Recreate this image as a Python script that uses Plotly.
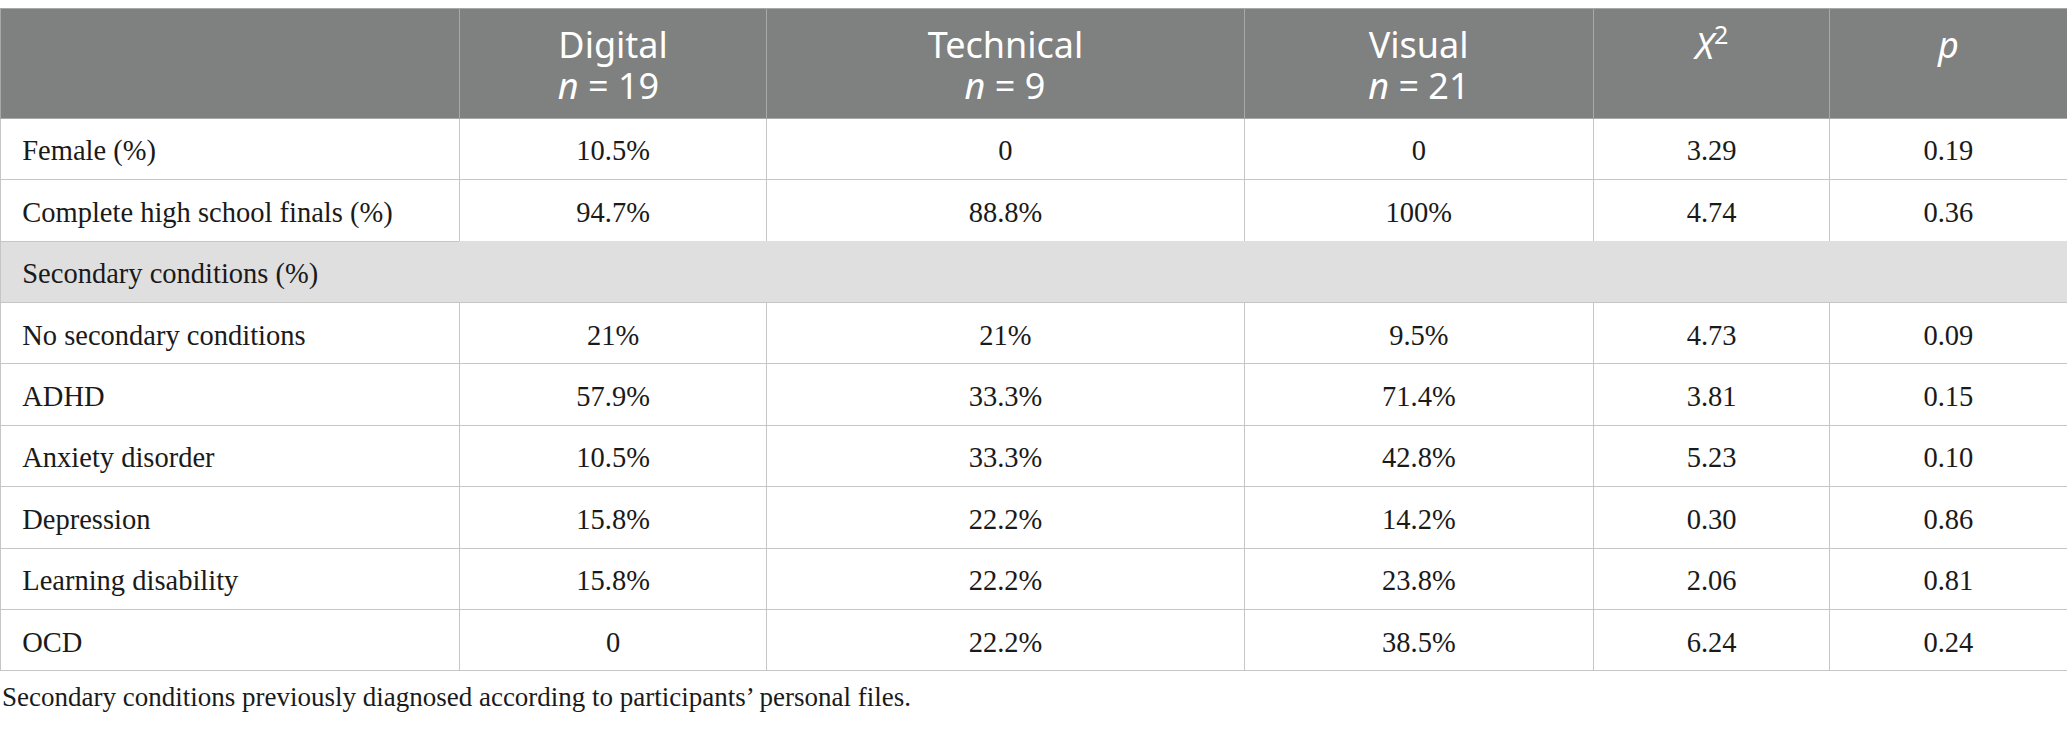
import plotly.graph_objects as go

row_labels = ["Female (%)", "Complete high school finals (%)", "Secondary conditions (%)",
              "No secondary conditions", "ADHD", "Anxiety disorder", "Depression",
              "Learning disability", "OCD"]
digital = ["10.5%", "94.7%", "", "21%", "57.9%", "10.5%", "15.8%", "15.8%", "0"]
technical = ["0", "88.8%", "", "21%", "33.3%", "33.3%", "22.2%", "22.2%", "22.2%"]
visual = ["0", "100%", "", "9.5%", "71.4%", "42.8%", "14.2%", "23.8%", "38.5%"]
chi2 = ["3.29", "4.74", "", "4.73", "3.81", "5.23", "0.30", "2.06", "6.24"]
pvals = ["0.19", "0.36", "", "0.09", "0.15", "0.10", "0.86", "0.81", "0.24"]
headers = [[""], ["Digital", "<i>n</i> = 19"], ["Technical", "<i>n</i> = 9"],
           ["Visual", "<i>n</i> = 21"], ["<i>X</i><sup>2</sup>"], ["<i>p</i>"]]
footnote = "Secondary conditions previously diagnosed according to participants\u2019 personal files."

W, H = 2067, 733
col_widths = [459, 307, 477, 349, 236, 237]
section_idx = 2
n_rows = len(row_labels)
# non-breaking spaces each side of a header's 2nd line, so it sits centred under the 1st line
second_line_pad = [0, 1, 5, 1, 0, 0]


def strut(size):
    # invisible non-breaking space with a larger font: pushes the text down inside its cell
    return f'<span style="font-size:{size}px">\u00a0</span>'


def up(s, px):
    return f'<span style="baseline-shift:{px}px">{s}</span>'


header_vals = []
for ci, h in enumerate(headers):
    if not h[0]:
        header_vals.append("")
        continue
    first = strut(38) + h[0] + strut(38)
    if len(h) == 1:
        header_vals.append(first + "<br>")
    else:
        pad = "\u00a0" * second_line_pad[ci]
        header_vals.append(first + "<br>" + up(pad + h[1] + pad, 5))

body_cols = [row_labels, digital, technical, visual, chi2, pvals]
body_vals = []
for ci, col in enumerate(body_cols):
    vals = []
    for v in col:
        if not v:
            vals.append("")
            continue
        if ci == 0:
            txt = "\u00a0\u00a0" + v + strut(38)
        else:
            txt = strut(38) + v + strut(38)
        vals.append(txt + "<br>")
    body_vals.append(vals)

grid = "#c6c6c6"
sec_fill = "#e0dfe0"
row_fill = [sec_fill if i == section_idx else "white" for i in range(n_rows)]
fills = [row_fill] * len(body_cols)
line_cols = []
for ci in range(len(body_cols)):
    line_cols.append([sec_fill if (i == section_idx and ci > 0) else grid for i in range(n_rows)])

fig = go.Figure(go.Table(
    domain=dict(x=[0, 1], y=[0, 1 - 8.5 / H]),
    columnwidth=col_widths,
    header=dict(
        values=header_vals,
        fill_color="#7f8080",
        line=dict(color="#a8a8a8", width=1),
        font=dict(family="Noto Sans", size=36, color="white"),
        align="center",
        height=109.4,
    ),
    cells=dict(
        values=body_vals,
        fill_color=fills,
        line=dict(color=line_cols, width=1),
        font=dict(family="Liberation Serif", size=28.5, color="#1a1a1a"),
        align=["left", "center", "center", "center", "center", "center"],
        height=61.4,
    ),
))

fig.add_annotation(
    text=footnote, x=0, y=1 - 697 / H, xref="paper", yref="paper",
    xanchor="left", yanchor="middle", showarrow=False,
    font=dict(family="Liberation Serif", size=27, color="#1a1a1a"),
)

fig.update_layout(
    width=W, height=H, margin=dict(l=0, r=0, t=0, b=0),
    paper_bgcolor="white", plot_bgcolor="white",
)

fig.write_html("out.html", config={"displayModeBar": False},
               post_script="document.body.style.margin='0';document.body.style.padding='0';")
